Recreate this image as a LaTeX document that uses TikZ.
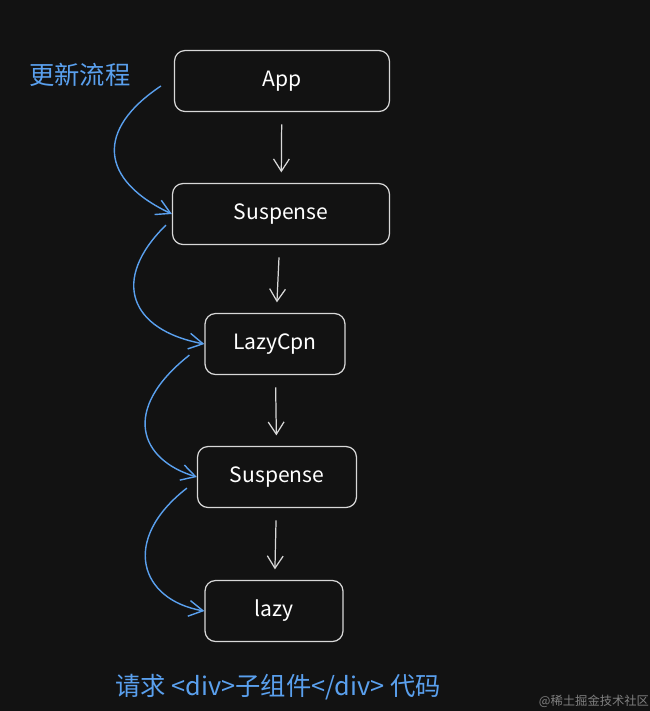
\documentclass[tikz,border=0pt]{standalone}
\usepackage{fontspec}
\setmainfont{Noto Sans CJK SC}
\usetikzlibrary{arrows.meta}
\definecolor{bgdark}{HTML}{121212}
\definecolor{flowblue}{HTML}{5AA0EE}
\definecolor{boxline}{HTML}{D8D8D8}
\begin{document}
\begin{tikzpicture}[x=0.02cm,y=-0.02cm,
  comp/.style={draw=boxline,rounded corners=6pt,line width=0.7pt,text=white,
    minimum height=1.22cm,font=\large},
  down/.style={->,draw=boxline,line width=0.7pt,shorten <=7pt,shorten >=6pt,
    >={Straight Barb[length=7pt,width=9pt]}},
  flow/.style={->,draw=flowblue,line width=0.8pt,>={Straight Barb[length=8pt,width=9pt]}}]
\fill[bgdark] (0,0) rectangle (650,711);
\useasboundingbox (0,0) rectangle (650,711);
\node[comp,minimum width=4.3cm]  (app)   at (282,81)  {App};
\node[comp,minimum width=4.34cm] (susA)  at (281,214) {Suspense};
\node[comp,minimum width=2.8cm]  (lazyc) at (275,344) {LazyCpn};
\node[comp,minimum width=3.18cm] (susB)  at (277,477) {Suspense};
\node[comp,minimum width=2.76cm] (lazy)  at (274,611) {lazy};
\node[text=flowblue,font=\Large] (title) at (80,75) {更新流程};
\node[text=flowblue,font=\Large] (req) at (278,687) {请求 <div>子组件</div> 代码};
\node[text=gray,font=\scriptsize] (mark) at (594,701) {@稀土掘金技术社区};
\draw[down] (app) -- (susA);
\draw[down] (susA) -- (lazyc);
\draw[down] (lazyc) -- (susB);
\draw[down] (susB) -- (lazy);
\draw[flow] (app.west)++(-13,5) .. controls (95,130) and (100,180) .. (susA.west);
\draw[flow] (susA.south west)++(-6,-20) .. controls (110,280) and (130,330) .. (lazyc.west);
\draw[flow] (lazyc.south west)++(-15,-20) .. controls (120,410) and (140,460) .. (susB.west);
\draw[flow] (susB.south west)++(-10,-20) .. controls (120,540) and (140,600) .. (lazy.west);
\end{tikzpicture}
\end{document}
